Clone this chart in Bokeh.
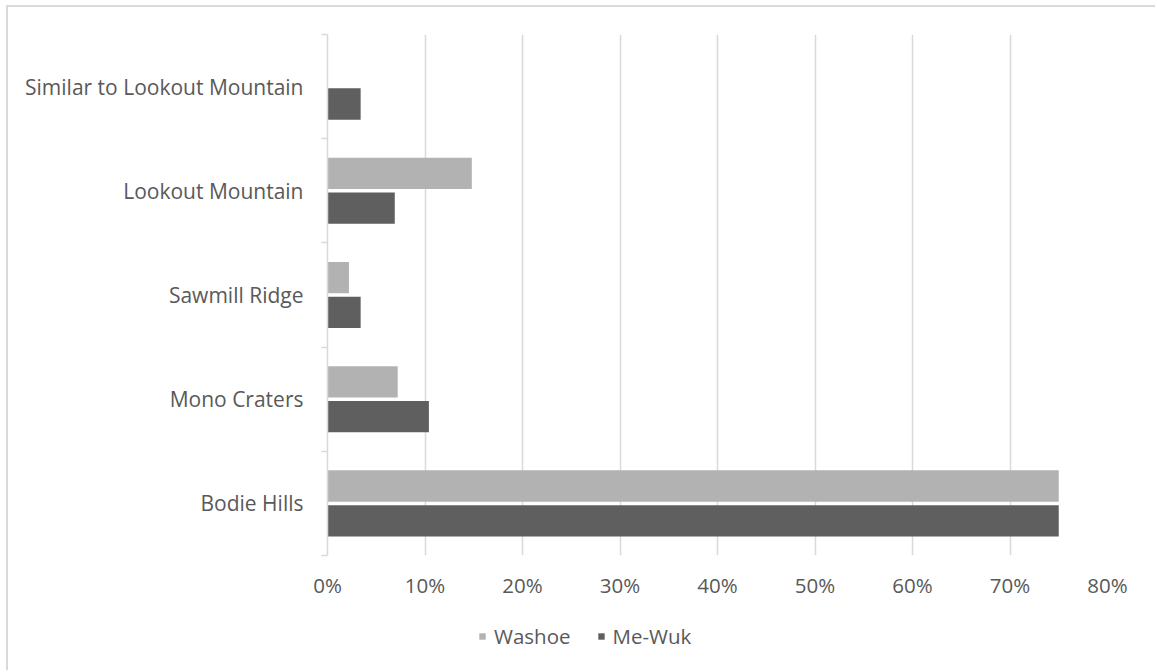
from bokeh.plotting import figure
from bokeh.models import (ColumnDataSource, Range1d, FixedTicker, NumeralTickFormatter,
                          Legend, LegendItem)
from bokeh.layouts import column
from bokeh.transform import dodge
from bokeh.embed import file_html
from bokeh.resources import INLINE

categories = ["Bodie Hills", "Mono Craters", "Sawmill Ridge", "Lookout Mountain",
              "Similar to Lookout Mountain"]
washoe = [0.75, 0.072, 0.022, 0.148, 0.0]
mewuk = [0.75, 0.104, 0.034, 0.069, 0.034]
x_ticks = [0, 0.1, 0.2, 0.3, 0.4, 0.5, 0.6, 0.7, 0.8]

FONT = "Open Sans"
TXT = "#595959"
GRID = "#d9d9d9"
C_WASHOE = "#b2b2b2"
C_MEWUK = "#5f5f5f"

pos = [i + 0.5 for i in range(len(categories))]
src = ColumnDataSource(dict(y=pos, cat=categories, washoe=washoe, mewuk=mewuk))

p = figure(width=1149, height=610, output_backend="svg", toolbar_location=None,
           x_range=Range1d(0, 0.8), y_range=Range1d(0, len(categories)),
           min_border_left=319, min_border_right=50, min_border_top=27,
           min_border_bottom=62, outline_line_color=None,
           margin=(5, 0, 0, 6),
           styles={"border-top": "2px solid #d9d9d9", "border-left": "2px solid #d9d9d9"})

p.hbar(y=dodge("y", 0.167, range=p.y_range), right="washoe", left=0, height=0.3,
       source=src, fill_color=C_WASHOE, line_color=None)
p.hbar(y=dodge("y", -0.167, range=p.y_range), right="mewuk", left=0, height=0.3,
       source=src, fill_color=C_MEWUK, line_color=None)

# x axis
xa = p.xaxis[0]
xa.ticker = FixedTicker(ticks=x_ticks)
xa.formatter = NumeralTickFormatter(format="0%")
xa.axis_line_color = None
xa.major_tick_line_color = None
xa.minor_tick_line_color = None
xa.major_label_text_font = FONT
xa.major_label_text_font_size = "20.5px"
xa.major_label_text_color = TXT
xa.major_label_standoff = 9

# y axis
ya = p.yaxis[0]
ya.ticker = FixedTicker(ticks=pos, minor_ticks=list(range(len(categories) + 1)))
ya.major_label_overrides = {pv: c for pv, c in zip(pos, categories)}
ya.axis_line_color = GRID
ya.axis_line_width = 1.5
ya.major_tick_line_color = None
ya.major_tick_out = 0
ya.major_tick_in = 0
ya.minor_tick_line_color = GRID
ya.minor_tick_line_width = 1.5
ya.minor_tick_out = 6
ya.minor_tick_in = 0
ya.major_label_text_font = FONT
ya.major_label_text_font_size = "21px"
ya.major_label_text_color = TXT
ya.major_label_standoff = 18

p.xgrid.ticker = FixedTicker(ticks=x_ticks)
p.xgrid.grid_line_color = GRID
p.xgrid.grid_line_width = 1.5
p.ygrid.grid_line_color = None

# legend strip (same data, rendered out of view; only the legend is shown)
lg = figure(width=1149, height=55, output_backend="svg", toolbar_location=None,
            x_range=Range1d(0, 0.8), y_range=Range1d(100, 101),
            min_border=0, outline_line_color=None, margin=(0, 0, 0, 6),
            styles={"border-left": "2px solid #d9d9d9"})
lg.axis.visible = False
lg.grid.visible = False
l_w = lg.hbar(y="y", right="washoe", left=0, height=0.3, source=src,
              fill_color=C_WASHOE, line_color=None)
l_m = lg.hbar(y="y", right="mewuk", left=0, height=0.3, source=src,
              fill_color=C_MEWUK, line_color=None)
legend = Legend(items=[LegendItem(label="Washoe", renderers=[l_w]),
                       LegendItem(label="Me-Wuk", renderers=[l_m])],
                location=(151, 20), orientation="horizontal",
                glyph_width=8, glyph_height=8, label_standoff=8, spacing=26,
                padding=0, margin=0, border_line_color=None,
                background_fill_alpha=0, label_text_font=FONT,
                label_text_font_size="20.5px", label_text_color=TXT, label_height=20)
lg.add_layout(legend, "center")

layout = column(p, lg, spacing=0)
open("out.html", "w").write(file_html(layout, INLINE))
